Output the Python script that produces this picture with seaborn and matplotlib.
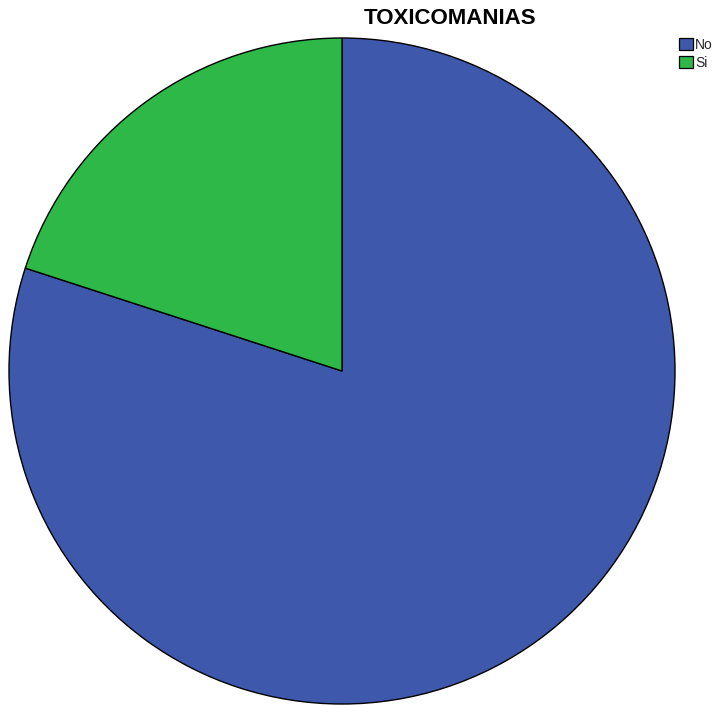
import matplotlib
matplotlib.use("Agg")
import matplotlib.pyplot as plt
import seaborn as sns
from matplotlib.patches import Patch

sns.set_theme(style="white")
plt.rcParams['font.family'] = ['Liberation Sans', 'DejaVu Sans']

categories = ["No", "Si"]
values = [80, 20]
colors = ["#3E58AC", "#2EB848"]

fig = plt.figure(figsize=(7.17, 7.05), dpi=100)
ax = fig.add_axes([9 / 717, 1 / 705, 666 / 717, 666 / 705])
ax.pie(values, colors=colors, startangle=90, counterclock=False,
       wedgeprops=dict(edgecolor="black", linewidth=1.0))
ax.set_aspect("equal")
ax.set_xlim(-1.0, 1.0)
ax.set_ylim(-1.0, 1.0)
ax.axis("off")

fig.text(450 / 717, 1 - 18.5 / 705, "TOXICOMANIAS", ha="center", va="center",
         fontsize=16, fontweight="bold", color="black")

handles = [Patch(facecolor=c, edgecolor="black", linewidth=0.9, label=l)
           for c, l in zip(colors, categories)]
fig.legend(handles=handles, loc="upper left", bbox_to_anchor=(676 / 717, 1 - 35 / 705),
           frameon=False, fontsize=10, handlelength=1.0, handleheight=1.0,
           handletextpad=0.18, labelspacing=0.3, borderpad=0.2, borderaxespad=0)

fig.savefig("out.png", dpi=100, facecolor="white")
